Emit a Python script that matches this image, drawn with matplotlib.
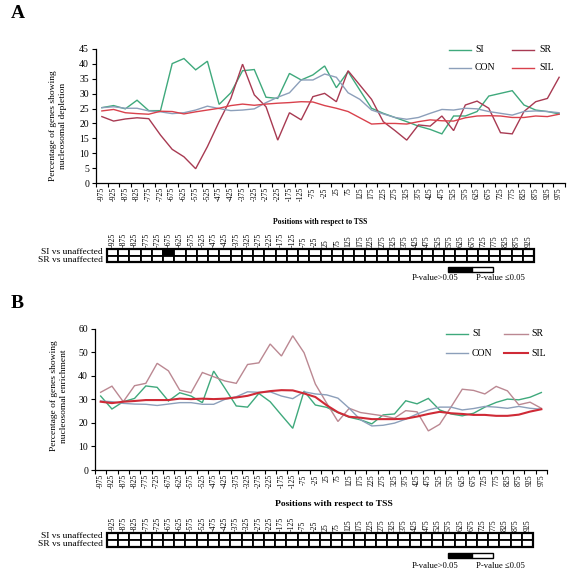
import numpy as np
import matplotlib
matplotlib.use("Agg")
import matplotlib.pyplot as plt
from matplotlib.patches import Rectangle
from matplotlib.lines import Line2D

W = 567.0
H = 572.0
FN = ["Liberation Serif", "DejaVu Serif"]

# positions (bp) with respect to TSS
positions = [str(p) for p in range(-975, 976, 50)]
box_positions = [str(p) for p in range(-925, 926, 50)]

# panel A : nucleosomal depletion
a_si = [25.3, 26.0, 24.9, 27.8, 24.3, 24.3, 40.1, 41.8, 38.0, 40.9, 26.4, 30.3, 37.7, 38.1, 28.8, 28.4, 36.8, 34.6, 36.3, 39.3,
        32.0, 37.4, 31.2, 25.1, 23.4, 22.0, 20.6, 19.1, 18.0, 16.5, 22.5, 22.5, 24.0, 29.2, 30.1, 31.0, 26.2, 24.5, 24.0, 23.2]
a_sr = [22.3, 20.8, 21.5, 21.9, 21.6, 16.1, 11.3, 8.8, 4.8, 12.2, 20.6, 28.4, 39.9, 29.6, 25.6, 14.4, 23.6, 21.2, 29.0, 30.1,
        27.3, 37.7, 32.9, 28.1, 20.6, 17.6, 14.4, 19.5, 19.1, 22.5, 17.6, 26.2, 27.5, 25.1, 16.9, 16.5, 24.0, 27.3, 28.4, 35.5]
a_con = [25.3, 25.6, 25.1, 25.1, 24.2, 23.9, 23.3, 23.6, 24.5, 25.8, 25.0, 24.3, 24.5, 24.9, 27.0, 28.8, 30.3, 34.6, 34.6, 36.6,
         35.5, 30.3, 28.1, 24.5, 23.2, 22.0, 21.4, 22.0, 23.4, 24.7, 24.5, 25.1, 24.9, 24.0, 23.4, 22.8, 24.0, 24.2, 24.0, 23.6]
a_sil = [24.2, 24.7, 23.6, 23.3, 23.1, 24.1, 24.0, 23.2, 23.9, 24.5, 25.1, 26.0, 26.5, 26.1, 26.5, 26.8, 27.0, 27.3, 27.2, 26.0,
         25.1, 24.0, 21.9, 19.8, 20.0, 20.0, 19.8, 20.6, 21.2, 20.9, 20.8, 21.9, 22.5, 22.6, 22.5, 22.0, 22.0, 22.5, 22.3, 23.1]
# 1 = black box
a_sig_si = [0, 0, 0, 0, 0, 1, 0, 0, 0, 0, 0, 0, 0, 0, 0, 0, 0, 0, 0, 0, 0, 0, 0, 0, 0, 0, 0, 0, 0, 0, 0, 0, 0, 0, 0, 0, 0, 0]
a_sig_sr = [0, 0, 0, 0, 0, 0, 0, 0, 0, 0, 0, 0, 0, 0, 0, 0, 0, 0, 0, 0, 0, 0, 0, 0, 0, 0, 0, 0, 0, 0, 0, 0, 0, 0, 0, 0, 0, 0]

# panel B : nucleosomal enrichment
b_si = [31.4, 25.9, 29.0, 30.4, 35.7, 35.1, 29.3, 32.8, 31.4, 28.6, 42.0, 34.7, 27.2, 26.7, 32.5, 29.0, 23.3, 17.7, 33.5, 27.6,
        26.6, 24.4, 22.4, 21.3, 19.6, 23.4, 23.8, 29.4, 28.1, 30.4, 25.5, 23.8, 23.0, 24.1, 26.7, 28.7, 30.1, 29.8, 30.9, 32.9]
b_sr = [33.0, 35.6, 29.0, 35.8, 36.8, 45.3, 42.1, 33.9, 32.8, 41.4, 39.6, 37.8, 36.8, 44.8, 45.5, 53.5, 48.4, 57.0, 49.8, 36.5,
        28.4, 20.6, 26.2, 24.4, 23.7, 23.0, 22.0, 25.2, 24.7, 16.6, 19.4, 26.7, 34.3, 33.8, 32.3, 35.5, 33.6, 27.7, 28.8, 26.2]
b_con = [29.3, 29.0, 28.3, 28.0, 27.9, 27.4, 28.0, 28.6, 28.6, 27.9, 27.9, 30.0, 31.1, 33.2, 33.0, 33.2, 31.4, 30.3, 33.2, 32.3,
         31.9, 30.5, 26.2, 21.3, 18.7, 19.0, 19.9, 21.6, 23.8, 25.5, 26.7, 26.7, 25.5, 26.1, 27.0, 26.7, 26.2, 27.0, 26.2, 25.8]
b_sil = [29.0, 28.4, 29.0, 29.3, 29.7, 29.7, 29.7, 30.3, 30.1, 30.3, 30.1, 30.3, 30.8, 31.5, 32.8, 33.5, 33.9, 33.8, 32.5, 31.0,
         27.5, 24.5, 22.6, 22.2, 21.6, 21.6, 21.6, 21.8, 22.7, 23.8, 24.7, 24.1, 23.8, 23.4, 23.4, 23.0, 23.0, 23.5, 24.8, 25.8]
b_sig_si = [0] * 38
b_sig_sr = [0] * 38

series_names = ["SI", "SR", "CON", "SIL"]
c_si = "#3fa97c"
c_con = "#8c9fba"
a_colors = [c_si, "#a83a52", c_con, "#d9414c"]
b_colors = [c_si, "#bb8892", c_con, "#cf2a36"]


def rect(x0, y0, x1, y1):
    # pixel box -> figure fraction
    return [x0 / W, 1 - y1 / H, (x1 - x0) / W, (y1 - y0) / H]


def fx(x):
    return x / W


def fy(y):
    return 1 - y / H


def chart(fig, box, data, colors, lws, ymax, ystep):
    ax = fig.add_axes(box)
    x = np.arange(len(positions))
    for vals, c, lw in zip(data, colors, lws):
        ax.plot(x, vals, color=c, lw=lw, solid_joinstyle="miter")
    ax.set_xlim(-0.5, len(positions) - 0.5)
    ax.set_ylim(0, ymax)
    ax.set_yticks(np.arange(0, ymax + 1, ystep))
    ax.set_xticks(x)
    ax.set_xticklabels(positions, rotation=90, fontsize=5.6, fontname=FN[0])
    ax.set_xticks(np.arange(-0.5, len(positions), 1.0), minor=True)
    ax.tick_params(axis="x", which="major", length=0, pad=3)
    ax.tick_params(axis="x", which="minor", length=3, width=0.8, direction="out")
    ax.tick_params(axis="y", length=3, width=0.8, direction="out", labelsize=7, pad=2)
    for lab in ax.get_yticklabels():
        lab.set_fontname(FN[0])
    for s in ["top", "right"]:
        ax.spines[s].set_visible(False)
    ax.spines["left"].set_linewidth(0.9)
    ax.spines["bottom"].set_linewidth(0.9)
    return ax


def legend(fig, x_line, x_text, rows, colors, lws):
    # 2 x 2 legend: SI SR / CON SIL
    order = [(0, 0, 0), (1, 1, 0), (2, 0, 1), (3, 1, 1)]
    for k, col, row in order:
        x0, x1 = x_line[col]
        y = rows[row]
        fig.add_artist(Line2D([fx(x0), fx(x1)], [fy(y), fy(y)], color=colors[k], lw=lws[k]))
        fig.text(fx(x_text[col]), fy(y), series_names[k], fontsize=7, family=FN, va="center", ha="left")


def sig_grid(fig, box, sig_si, sig_sr, label_size):
    ax = fig.add_axes(box)
    n = len(box_positions)
    ax.set_xlim(0, n)
    ax.set_ylim(0, 2)
    ax.axis("off")
    for row, sig in [(1, sig_si), (0, sig_sr)]:
        for i in range(n):
            fc = "black" if sig[i] else "white"
            ax.add_patch(Rectangle((i, row), 1, 1, facecolor=fc, edgecolor="black", lw=1.3, clip_on=False))
    ax.add_patch(Rectangle((0, 0), n, 2, facecolor="none", edgecolor="black", lw=1.6, clip_on=False))
    for i, lab in enumerate(box_positions):
        ax.text(i + 0.5, 2.35, lab, rotation=90, ha="center", va="bottom", fontsize=label_size, family=FN)
    return ax


def pvalue_key(fig, y_box, y_text):
    fig.add_artist(Rectangle((fx(448), fy(y_box + 5)), fx(472) - fx(448), 5 / H,
                             facecolor="black", edgecolor="black", lw=1.0))
    fig.add_artist(Rectangle((fx(472), fy(y_box + 5)), fx(493) - fx(472), 5 / H,
                             facecolor="white", edgecolor="black", lw=1.0))
    fig.text(fx(435), fy(y_text), "P-value>0.05", fontsize=6.2, family=FN, ha="center", va="center")
    fig.text(fx(500), fy(y_text), "P-value \u22640.05", fontsize=6.2, family=FN, ha="center", va="center")


def main():
    fig = plt.figure(figsize=(W / 100.0, H / 100.0), dpi=100)
    fig.patch.set_facecolor("white")

    # ---- A
    fig.text(fx(11), fy(13), "A", fontsize=14, fontweight="bold", family=FN, va="center", ha="left")
    a_lws = [1.0, 1.0, 1.0, 1.0]
    chart(fig, rect(96, 49, 565, 183), [a_si, a_sr, a_con, a_sil], a_colors, a_lws, 45, 5)
    fig.text(fx(58), fy(126), "Percentage of genes showing\nnucleosomal depletion", rotation=90,
             fontsize=6.8, family=FN, ha="center", va="center", multialignment="center")
    legend(fig, [(449, 471), (512, 534)], [475, 539], [50, 68], a_colors, a_lws)
    fig.text(fx(320), fy(222), "Positions with respect to TSS", fontsize=5.5, fontweight="bold",
             family=FN, ha="center", va="center")
    sig_grid(fig, rect(107, 249, 534, 262), a_sig_si, a_sig_sr, 5.6)
    fig.text(fx(103), fy(252), "SI vs unaffected", fontsize=6.8, family=FN, ha="right", va="center")
    fig.text(fx(103), fy(259.5), "SR vs unaffected", fontsize=6.8, family=FN, ha="right", va="center")
    pvalue_key(fig, 267, 278)

    # ---- B
    fig.text(fx(11), fy(303), "B", fontsize=14, fontweight="bold", family=FN, va="center", ha="left")
    b_lws = [1.0, 1.0, 1.0, 1.5]
    chart(fig, rect(95, 328.7, 547, 470), [b_si, b_sr, b_con, b_sil], b_colors, b_lws, 60, 10)
    fig.text(fx(59), fy(396), "Percentage of genes showing\nnucleosomal enrichment", rotation=90,
             fontsize=6.8, family=FN, ha="center", va="center", multialignment="center")
    legend(fig, [(446, 468), (504, 528)], [472, 531], [334, 353], b_colors, b_lws)
    fig.text(fx(334), fy(504), "Positions with respect to TSS", fontsize=6.8, fontweight="bold",
             family=FN, ha="center", va="center")
    sig_grid(fig, rect(107, 533, 533, 547), b_sig_si, b_sig_sr, 5.6)
    fig.text(fx(103), fy(536), "SI vs unaffected", fontsize=6.8, family=FN, ha="right", va="center")
    fig.text(fx(103), fy(544.5), "SR vs unaffected", fontsize=6.8, family=FN, ha="right", va="center")
    pvalue_key(fig, 553, 566)

    fig.savefig("out.png", dpi=100)


if __name__ == "__main__":
    main()
